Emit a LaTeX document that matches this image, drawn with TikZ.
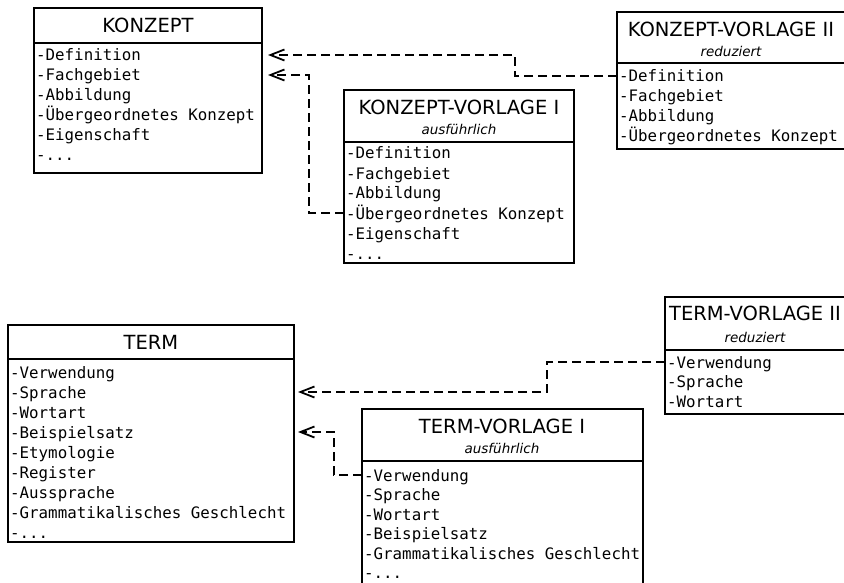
\documentclass[tikz,border=0pt]{standalone}
\usepackage{fontspec}
\setmainfont{DejaVu Sans}
\newfontfamily\monofont{DejaVu Sans Mono}
\usetikzlibrary{arrows.meta}
\newcommand\myetc{-...}
\begin{document}
\begin{tikzpicture}[x=1pt,y=-1pt,
  classbox/.style={draw, line width=2pt, anchor=north west, inner sep=0pt, outer sep=0pt},
  ttl/.style={inner sep=0pt, font=\fontsize{19.5}{21}\selectfont},
  subttl/.style={inner sep=0pt, font=\fontsize{13.5}{15}\selectfont\itshape},
  row/.style={anchor=west, inner sep=0pt, text height=15pt, text depth=3pt, font=\monofont\fontsize{15.8}{18}\selectfont},
  dep/.style={line width=2pt, dash pattern=on 9pt off 5pt, -{Straight Barb[length=14pt,width=11pt,line width=1.8pt]}},
  sepline/.style={line width=2pt}]
\useasboundingbox (0,0) rectangle (844,583);
\clip (0,0) rectangle (844,583);

% KONZEPT
\node[classbox, minimum width=228pt, minimum height=165pt] (k) at (34,8) {};
\draw[sepline] ([yshift=-35pt]k.north west) -- ([yshift=-35pt]k.north east);
\node[ttl] (kt) at (148,25) {KONZEPT};
\foreach \t [count=\i] in {-Definition,-Fachgebiet,-Abbildung,-Übergeordnetes Konzept,-Eigenschaft,\myetc}
  \node[row] (kr\i) at (36,35+20*\i) {\t};

% KONZEPT-VORLAGE I
\node[classbox, minimum width=230pt, minimum height=173pt] (kv1) at (344,90) {};
\draw[sepline] ([yshift=-52pt]kv1.north west) -- ([yshift=-52pt]kv1.north east);
\node[ttl] (kv1t) at (459,107) {KONZEPT-VORLAGE I};
\node[subttl] (kv1s) at (459,129) {ausführlich};
\foreach \t [count=\i] in {-Definition,-Fachgebiet,-Abbildung,-Übergeordnetes Konzept,-Eigenschaft,\myetc}
  \node[row] (kv1r\i) at (346,133+20*\i) {\t};

% KONZEPT-VORLAGE II
\node[classbox, minimum width=228pt, minimum height=137pt] (kv2) at (617,12) {};
\draw[sepline] ([yshift=-51pt]kv2.north west) -- ([yshift=-51pt]kv2.north east);
\node[ttl] (kv2t) at (731,29) {KONZEPT-VORLAGE II};
\node[subttl] (kv2s) at (731,51) {reduziert};
\foreach \t [count=\i] in {-Definition,-Fachgebiet,-Abbildung,-Übergeordnetes Konzept}
  \node[row] (kv2r\i) at (619,56+20*\i) {\t};

% TERM
\node[classbox, minimum width=286pt, minimum height=217pt] (t) at (8,325) {};
\draw[sepline] ([yshift=-34pt]t.north west) -- ([yshift=-34pt]t.north east);
\node[ttl] (tt) at (151,342) {TERM};
\foreach \t [count=\i] in {-Verwendung,-Sprache,-Wortart,-Beispielsatz,-Etymologie,-Register,-Aussprache,-Grammatikalisches Geschlecht,\myetc}
  \node[row] (tr\i) at (10,352+20*\i) {\t};

% TERM-VORLAGE I
\node[classbox, minimum width=281pt, minimum height=190pt] (tv1) at (362,409) {};
\draw[sepline] ([yshift=-52pt]tv1.north west) -- ([yshift=-52pt]tv1.north east);
\node[ttl] (tv1t) at (502,426) {TERM-VORLAGE I};
\node[subttl] (tv1s) at (502,448) {ausführlich};
\foreach \t [count=\i] in {-Verwendung,-Sprache,-Wortart,-Beispielsatz,-Grammatikalisches Geschlecht,\myetc}
  \node[row] (tv1r\i) at (364,455.5+19.5*\i) {\t};

% TERM-VORLAGE II
\node[classbox, minimum width=180pt, minimum height=117pt] (tv2) at (665,297) {};
\draw[sepline] ([yshift=-53pt]tv2.north west) -- ([yshift=-53pt]tv2.north east);
\node[ttl] (tv2t) at (755,313) {TERM-VORLAGE II};
\node[subttl] (tv2s) at (755,337) {reduziert};
\foreach \t [count=\i] in {-Verwendung,-Sprache,-Wortart}
  \node[row] (tv2r\i) at (667,342.3+19.7*\i) {\t};

% connectors
\coordinate (b1) at (515,0);
\coordinate (b2) at (309,0);
\coordinate (b3) at (547,0);
\coordinate (b4) at (334,0);
\draw[dep] (kv2.west |- kv2r1) -| (b1 |- kr1) -- ([xshift=6pt]k.east |- kr1);
\draw[dep] (kv1.west |- kv1r4) -| (b2 |- kr2) -- ([xshift=6pt]k.east |- kr2);
\draw[dep] (tv2.west |- tv2r1) -| (b3 |- tr2) -- ([xshift=4pt]t.east |- tr2);
\draw[dep] (tv1.west |- tv1r1) -| (b4 |- tr4) -- ([xshift=4pt]t.east |- tr4);
\end{tikzpicture}
\end{document}
